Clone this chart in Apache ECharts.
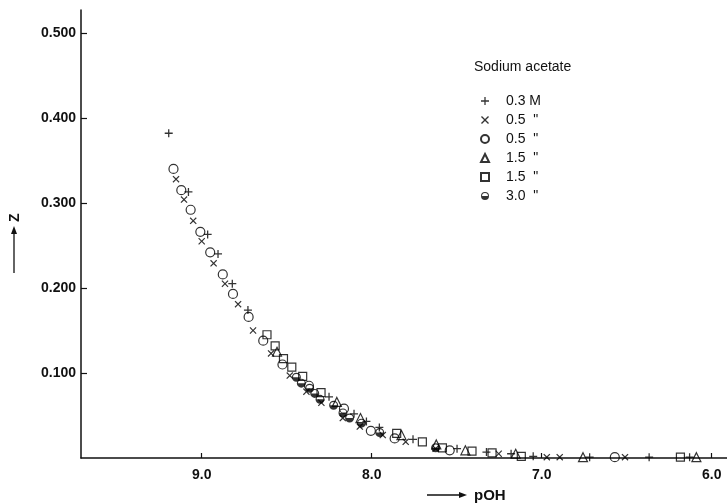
<!DOCTYPE html>
<html>
<head>
<meta charset="utf-8">
<script src="https://cdn.jsdelivr.net/npm/echarts@6/dist/echarts.min.js"></script>
<style>
  html, body { margin: 0; padding: 0; background: #fff; }
  #chart { width: 727px; height: 503px; }
</style>
</head>
<body>
<div id="chart"></div>
<script>
// Z vs pOH, sodium acetate solutions
const xTicks = [9.0, 8.0, 7.0, 6.0];
const yTicks = [0.1, 0.2, 0.3, 0.4, 0.5];

// + 0.3 M
const plus03 = [[9.194, 0.382], [9.078, 0.313], [8.965, 0.263], [8.904, 0.240], [8.82, 0.205],
  [8.728, 0.174], [8.251, 0.072], [8.104, 0.052], [8.031, 0.043], [7.955, 0.036], [7.757, 0.022],
  [7.498, 0.011], [7.325, 0.007], [7.18, 0.005], [7.05, 0.002], [6.718, 0.001], [6.368, 0.001], [6.13, 0.001]];
// x 0.5 "
const cross05 = [[9.151, 0.328], [9.104, 0.304], [9.05, 0.279], [9.0, 0.255], [8.93, 0.229],
  [8.863, 0.205], [8.786, 0.181], [8.698, 0.150], [8.592, 0.123], [8.482, 0.097], [8.384, 0.078],
  [8.296, 0.065], [8.17, 0.047], [8.07, 0.037], [7.935, 0.027], [7.8, 0.019], [7.624, 0.011],
  [7.253, 0.005], [6.97, 0.001], [6.894, 0.001], [6.51, 0.001]];
// o 0.5 "
const circle05 = [[9.166, 0.340], [9.12, 0.315], [9.065, 0.292], [9.008, 0.266], [8.95, 0.242],
  [8.876, 0.216], [8.816, 0.193], [8.724, 0.166], [8.638, 0.138], [8.525, 0.110], [8.369, 0.085],
  [8.163, 0.058], [8.005, 0.032], [7.865, 0.023], [7.541, 0.009], [6.57, 0.001]];
// triangle 1.5 "
const tri15 = [[8.557, 0.125], [8.205, 0.066], [8.066, 0.047], [7.825, 0.027], [7.62, 0.016],
  [7.449, 0.009], [7.153, 0.005], [6.757, 0.001], [6.09, 0.001]];
// square 1.5 "
const sq15 = [[8.616, 0.145], [8.568, 0.132], [8.519, 0.117], [8.47, 0.107], [8.406, 0.096],
  [8.298, 0.077], [7.853, 0.029], [7.702, 0.019], [7.584, 0.012], [7.41, 0.008], [7.292, 0.006],
  [7.12, 0.002], [6.184, 0.001]];
// half filled circle 3.0 "
const half30 = [[8.443, 0.095], [8.414, 0.088], [8.365, 0.082], [8.335, 0.076], [8.304, 0.069],
  [8.224, 0.062], [8.169, 0.053], [8.13, 0.047], [8.06, 0.041], [7.953, 0.030], [7.624, 0.012]];

const legendLabels = { a: '0.3 M', b: '0.5  "', c: '0.5  "', d: '1.5  "', e: '1.5  "', f: '3.0  "' };

const plusPath = 'path://M4.2,0H5.8V4.2H10V5.8H5.8V10H4.2V5.8H0V4.2H4.2Z';
const crossPath = 'path://M1.2,0L5,3.8L8.8,0L10,1.2L6.2,5L10,8.8L8.8,10L5,6.2L1.2,10L0,8.8L3.8,5L0,1.2Z';
const halfPath = 'path://M5,0A5,5 0 1,1 5,10A5,5 0 1,1 5,0Z M8.7,5A3.7,3.7 0 0,0 1.3,5Z';
const hollow = { color: 'rgba(0,0,0,0)', borderColor: '#000', borderWidth: 1.2 };
const font = 'Liberation Sans';

let chart = echarts.init(document.getElementById('chart'));

let option = {
  backgroundColor: '#fff',
  animation: false,
  grid: { left: 81, right: 0, top: 10, bottom: 45 },
  legend: {
    orient: 'vertical',
    left: 475,
    top: 89,
    itemWidth: 8,
    itemHeight: 8,
    itemGap: 5,
    selectedMode: false,
    formatter: function (name) { return legendLabels[name]; },
    textStyle: { fontFamily: font, fontSize: 14, color: '#111', lineHeight: 14, padding: [0, 0, 0, 12] },
    data: ['a', 'b', 'c', 'd', 'e', 'f']
  },
  graphic: [
    { type: 'text', left: 474, top: 60, style: { text: 'Sodium acetate', font: '14px ' + font, fill: '#111' } },
    // y axis name: Z with arrow
    { type: 'text', x: 8, y: 222, rotation: Math.PI / 2, style: { text: 'Z', font: 'bold 14px ' + font, fill: '#111' } },
    { type: 'line', shape: { x1: 14, y1: 273, x2: 14, y2: 231 }, style: { stroke: '#111', lineWidth: 1.3 } },
    { type: 'polygon', shape: { points: [[14, 226], [11, 234], [17, 234]] }, style: { fill: '#111' } },
    // x axis name: arrow with pOH
    { type: 'line', shape: { x1: 427, y1: 495, x2: 460, y2: 495 }, style: { stroke: '#111', lineWidth: 1.3 } },
    { type: 'polygon', shape: { points: [[467, 495], [459, 492], [459, 498]] }, style: { fill: '#111' } },
    { type: 'text', left: 474, top: 488, style: { text: 'pOH', font: 'bold 15px ' + font, fill: '#111' } }
  ],
  xAxis: {
    type: 'value',
    inverse: true,
    min: 5.91,
    max: 9.71,
    axisLine: { show: true, onZero: false, lineStyle: { color: '#111', width: 1.5 } },
    axisTick: { show: true, inside: true, length: 5, customValues: xTicks, lineStyle: { color: '#111', width: 1.2 } },
    axisLabel: {
      customValues: xTicks, margin: 10, color: '#111', fontFamily: font, fontSize: 14, fontWeight: 'bold',
      formatter: function (v) { return v.toFixed(1); }
    },
    splitLine: { show: false }
  },
  yAxis: {
    type: 'value',
    min: 0,
    max: 0.527,
    axisLine: { show: true, lineStyle: { color: '#111', width: 1.5 } },
    axisTick: { show: true, inside: true, length: 6, customValues: yTicks, lineStyle: { color: '#111', width: 1.2 } },
    axisLabel: {
      customValues: yTicks, margin: 5, color: '#111', fontFamily: font, fontSize: 14, fontWeight: 'bold',
      formatter: function (v) { return v.toFixed(3); }
    },
    splitLine: { show: false }
  },
  series: [
    { name: 'a', type: 'scatter', data: plus03, symbol: plusPath, symbolSize: 8, itemStyle: { color: '#000' } },
    { name: 'b', type: 'scatter', data: cross05, symbol: crossPath, symbolSize: 7, itemStyle: { color: '#000' } },
    { name: 'c', type: 'scatter', data: circle05, symbol: 'circle', symbolSize: 9, itemStyle: hollow },
    { name: 'd', type: 'scatter', data: tri15, symbol: 'triangle', symbolSize: 9, itemStyle: hollow },
    { name: 'e', type: 'scatter', data: sq15, symbol: 'rect', symbolSize: 8, itemStyle: hollow },
    { name: 'f', type: 'scatter', data: half30, symbol: halfPath, symbolSize: 9, itemStyle: { color: '#000' } }
  ]
};

chart.setOption(option);
</script>
</body>
</html>
